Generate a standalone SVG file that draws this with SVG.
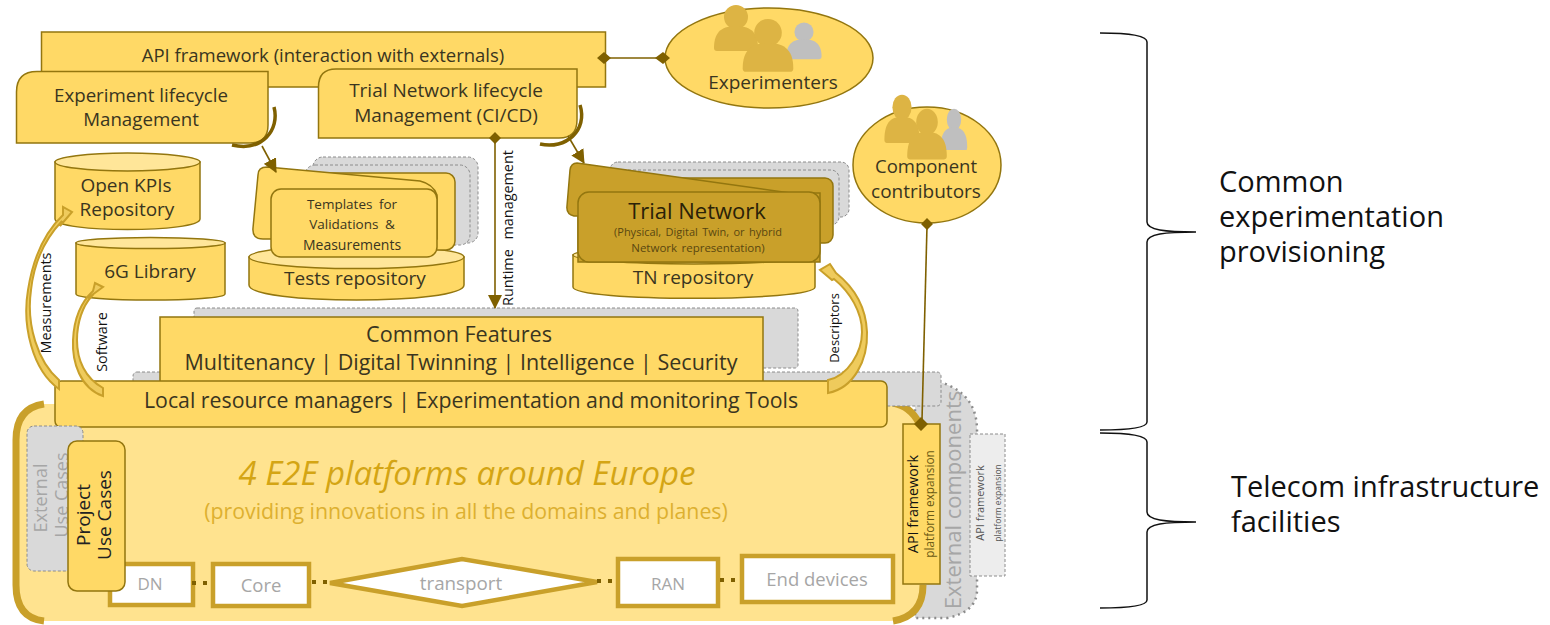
<svg xmlns="http://www.w3.org/2000/svg" width="1550" height="625" viewBox="0 0 1550 625">
<style>
text{font-family:"Open Sans","Noto Sans","Liberation Sans",sans-serif;fill:#3a3520;text-anchor:middle}
.y{fill:#FFD966;stroke:#93760f;stroke-width:1.5}
.ylt{fill:#FFE699;stroke:#93760f;stroke-width:1.5}
.d{fill:#C9A02A;stroke:#93760f;stroke-width:1.5}
.g{fill:#d9d9d9;stroke:#8c8c8c;stroke-width:1;stroke-dasharray:3 2}
.w{fill:#fff;stroke:#C9A02A;stroke-width:4.5}
.gt{fill:#a6a6a6}
.cn{fill:none;stroke:#7f6000;stroke-width:1.6}
.arc{fill:none;stroke:#7f6000;stroke-width:3.5}
.big{fill:none;stroke:#C9A02A;stroke-width:7}
.dot{fill:none;stroke:#7f6000;stroke-width:4;stroke-dasharray:4 7}
.bar{fill:#7f6000}
.cu{fill:#EFCB5C;stroke:#C9A02A;stroke-width:2}
.brace{fill:none;stroke:#111;stroke-width:1.5}
.p1{fill:#DDB444}.p2{fill:#bfbfbf}
.side{fill:#111;text-anchor:start;font-size:29px}
.lab{fill:#111;font-size:14.4px}
</style>
<defs>
<marker id="ah" markerWidth="14" markerHeight="14" refX="13" refY="7" orient="auto" markerUnits="userSpaceOnUse"><path d="M0 0L14 7L0 14Z" fill="#7f6000"/></marker>
<g id="person"><circle cx="0" cy="-15" r="12"/><path d="M-22 16C-22 -2 -12 -6 0 -6C12 -6 22 -2 22 16Q22 19 19 19H-19Q-22 19-22 16Z"/></g>
</defs>

<g id="platform-ext"><path d="M915 383H943Q977 395 977 430V590Q977 612 947 618H915Z" fill="#d9d9d9" stroke="#8c8c8c" stroke-width="2.500" stroke-dasharray="2 4"/>
<text transform="translate(961,500) rotate(-90)" font-size="22" class="gt">External components</text>
<rect x="970" y="434" width="35" height="142" fill="#ededed" stroke="#8c8c8c" stroke-dasharray="3 2"/>
<text transform="translate(984,503) rotate(-90)" font-size="11" style="fill:#555">API framework</text>
<text transform="translate(1001,503) rotate(-90)" font-size="8.500" style="fill:#555">platform expansion</text></g>

<g id="platform"><path d="M44 404H890Q925 412 925 460V585Q925 620 890 621H44Q14 618 14 585V440Q14 408 44 404Z" fill="#FFE38F"/>
<path class="big" d="M44 404Q16 408 16 440V585Q16 618 44 621"/>
<path class="big" d="M893 403Q910 406 919 423M923 585Q923 616 893 621"/>
<text x="467" y="485" font-size="33" font-style="italic" style="fill:#D4A514">4 E2E platforms around Europe</text>
<text x="466" y="519" font-size="21.300" style="fill:#DDB030">(providing innovations in all the domains and planes)</text></g>

<g id="ext-grey-back"><rect x="133" y="372" width="808" height="34" rx="4" class="g"/><rect x="194" y="308" width="604" height="60" rx="3" class="g"/></g>

<g id="common-features"><rect x="160" y="317" width="603" height="70" class="y"/>
<text x="459" y="342" font-size="21.600">Common Features</text>
<text x="461" y="370" font-size="21.500">Multitenancy | Digital Twinning | Intelligence | Security</text></g>

<g id="local-managers"><rect x="55" y="381" width="832" height="46" rx="6" class="y"/>
<text x="471" y="408" font-size="21.300">Local resource managers | Experimentation and monitoring Tools</text></g>

<g id="external-use-cases"><rect x="27" y="426" width="56" height="145" rx="7" class="g"/>
<text transform="translate(47,498) rotate(-90)" font-size="18" class="gt">External</text>
<text transform="translate(68,495) rotate(-90)" font-size="18" class="gt">Use Cases</text></g>

<g id="dn"><rect x="110" y="564" width="83" height="41" class="w"/><text x="150" y="590" font-size="17" class="gt">DN</text></g>
<g id="core"><rect x="213" y="564" width="96" height="42" class="w"/><text x="261" y="592" font-size="18.500" class="gt">Core</text></g>
<g id="transport"><path d="M330 583L462 559L597 582L462 606Z" class="w"/><text x="461" y="590" font-size="18.800" class="gt">transport</text></g>
<g id="ran"><rect x="618" y="559" width="100" height="47" class="w"/><text x="668" y="590" font-size="17" class="gt">RAN</text></g>
<g id="end-devices"><rect x="742" y="556" width="151" height="46" class="w"/><text x="817" y="586" font-size="18.500" class="gt">End devices</text></g>

<g id="project-use-cases"><rect x="68" y="441" width="57" height="150" rx="9" class="y"/>
<text transform="translate(90,515) rotate(-90)" font-size="19" style="fill:#222">Project</text>
<text transform="translate(111,515) rotate(-90)" font-size="19" style="fill:#222">Use Cases</text></g>

<g id="api-expansion"><rect x="903" y="424" width="37" height="160" class="y"/>
<text transform="translate(918,504) rotate(-90)" font-size="14.300" style="fill:#111">API framework</text>
<text transform="translate(934,504) rotate(-90)" font-size="11.800" style="fill:#6b5a14">platform expansion</text></g>

<g id="api-framework"><rect x="41.500" y="32" width="564" height="55" class="y"/>
<text x="323" y="62" font-size="18.500">API framework (interaction with externals)</text></g>

<g id="experiment-lifecycle"><path d="M37 71.500H268V125Q268 143 250 143H16.500V92Q16.500 71.500 37 71.500Z" class="y"/>
<text x="141" y="102" font-size="18.700">Experiment lifecycle</text><text x="141" y="126" font-size="18.700">Management</text></g>

<g id="tn-lifecycle"><path d="M336 69H577V120Q577 138 559 138H318.500V87Q318.500 69 336 69Z" class="y"/>
<text x="446" y="97" font-size="19">Trial Network lifecycle</text><text x="446" y="122" font-size="19">Management (CI/CD)</text></g>

<g id="open-kpis"><path d="M55 162V219C55 233 200 233 200 219V162Z" class="y"/><ellipse cx="127.500" cy="162" rx="72.500" ry="9" class="ylt"/>
<text x="126" y="192" font-size="19">Open KPIs</text><text x="127" y="216" font-size="19">Repository</text></g>

<g id="library"><path d="M76 243V294C76 302 225 302 225 294V243Z" class="y"/><ellipse cx="150.500" cy="243" rx="74.500" ry="5.500" class="ylt"/>
<text x="150" y="278" font-size="19">6G Library</text></g>

<g id="tests-repo"><path d="M249 257V285C249 305 464 305 464 285V257Z" class="y"/><ellipse cx="356.500" cy="257" rx="107.500" ry="11.500" class="ylt"/>
<text x="355" y="285" font-size="19">Tests repository</text></g>
<g id="templates"><rect x="313" y="157" width="165" height="86" rx="10" class="g"/><rect x="305" y="165" width="165" height="80" rx="10" class="g"/>
<rect x="300" y="173" width="155" height="77" rx="9" class="y"/>
<path d="M267 167L420 181Q433 184 437 195V239H263Q252 239 253 228L258 175Q258 167 267 167Z" class="y"/>
<rect x="271" y="189" width="166" height="68" rx="10" class="y"/>
<text x="352" y="209" font-size="13.500" style="word-spacing:3px">Templates for</text><text x="352" y="229" font-size="13.500" style="word-spacing:3px">Validations &amp;</text><text x="352" y="250" font-size="14">Measurements</text></g>

<g id="tn-repo"><path d="M573 255V287C573 302 815 302 815 287V255Z" class="y"/><ellipse cx="694" cy="255" rx="121" ry="9" class="ylt"/>
<text x="693" y="284" font-size="19">TN repository</text></g>
<g id="trial-network"><rect x="610" y="162" width="239" height="55" rx="8" class="g"/><rect x="600" y="170" width="239" height="55" rx="8" class="g"/>
<rect x="640" y="178" width="193" height="65" rx="8" class="d"/>
<path d="M577 163L790 193H820V262H578V216H574Q566 214 567 206L570 170Q571 163 577 163Z" class="d"/>
<rect x="578" y="192" width="242" height="70" rx="11" class="d"/>
<text x="697" y="219" font-size="22" style="fill:#2a2208">Trial Network</text>
<text x="698" y="236" font-size="11" style="fill:#5a4710;word-spacing:1.500px">(Physical, Digital Twin, or hybrid</text>
<text x="698" y="252" font-size="11.500" style="fill:#5a4710;word-spacing:1.500px">Network representation)</text></g>

<g id="experimenters"><ellipse cx="769" cy="58" rx="104" ry="50" class="y"/>
<use href="#person" class="p2" transform="translate(804,44) scale(.8)"/>
<use href="#person" class="p1" transform="translate(736,32)"/>
<use href="#person" class="p1" transform="translate(768,50) scale(1.150)"/>
<text x="773" y="89" font-size="19">Experimenters</text></g>

<g id="contributors"><ellipse cx="927" cy="165" rx="74" ry="58" class="y"/>
<use href="#person" class="p2" transform="translate(954,133) scale(.6,.9)"/>
<use href="#person" class="p1" transform="translate(902,123) scale(.8,1.050)"/>
<use href="#person" class="p1" transform="translate(927,138.500) scale(.9,1.100)"/>
<text x="926" y="173" font-size="18.500">Component</text><text x="926" y="198" font-size="19">contributors</text></g>

<g id="connectors">
<path class="cn" d="M604 58H663"/>
<path class="bar" d="M597 58l7-6 7 6-7 6zM655 58l8-6 7 6-7 6zM495 132l6 6-6 6-6-6zM927 218l6 6-6 6-6-6zM921 417l7 7-7 7-7-7z"/>
<path class="cn" d="M495 142V308" marker-end="url(#ah)"/>
<path class="cn" d="M927 226L922 420"/>
<path class="arc" d="M274 107C280 130 262 152 232 145"/>
<path class="cn" d="M262 146L276 172" marker-end="url(#ah)"/>
<path class="arc" d="M580 105C588 130 566 150 540 144"/>
<path class="cn" d="M568 136L584 163" marker-end="url(#ah)"/>
<path class="cu" d="M59 389C32 370 22 325 28 290C33 258 45 232 63 215L63 207L72 212L60 226L62 221C46 238 34 262 31 290C26 325 38 362 59 380Z"/>
<path class="cu" d="M103 396C80 388 72 362 73 340C74 318 80 303 93 291L95 283L103 287L88 298L91 297C83 306 77 322 77 340C77 360 85 378 103 388Z"/>
<path class="cu" d="M828 393C854 388 868 360 867 332C866 308 855 288 836 273L830 264L820 270L832 280L834 279C850 292 862 312 862 332C862 352 848 376 828 380Z"/>
<path class="dot" d="M192 583H212M312 582H330M597 581H618M720 580H742"/>
</g>

<g id="edge-labels">
<text class="lab" transform="translate(513,228) rotate(-90)" style="word-spacing:6px">Runtime management</text>
<text class="lab" transform="translate(51,303) rotate(-90)">Measurements</text>
<text class="lab" transform="translate(107,342) rotate(-90)">Software</text>
<text class="lab" transform="translate(839,328) rotate(-90)" style="font-size:13px">Descriptors</text>
</g>

<g id="braces">
<path class="brace" d="M1100 33C1128 33 1147 35 1147 42V222C1147 230 1165 232 1196 232C1165 232 1147 234 1147 242V422C1147 428 1128 430 1100 430"/>
<path class="brace" d="M1100 433C1128 433 1147 435 1147 442V512C1147 520 1165 522 1196 522C1165 522 1147 524 1147 532V600C1147 606 1128 608 1100 608"/>
</g>
<g id="captions">
<text class="side"><tspan x="1219" y="192">Common</tspan><tspan x="1219" y="227">experimentation</tspan><tspan x="1219" y="262">provisioning</tspan></text>
<text class="side"><tspan x="1231" y="497">Telecom infrastructure</tspan><tspan x="1231" y="532">facilities</tspan></text>
</g>
</svg>
